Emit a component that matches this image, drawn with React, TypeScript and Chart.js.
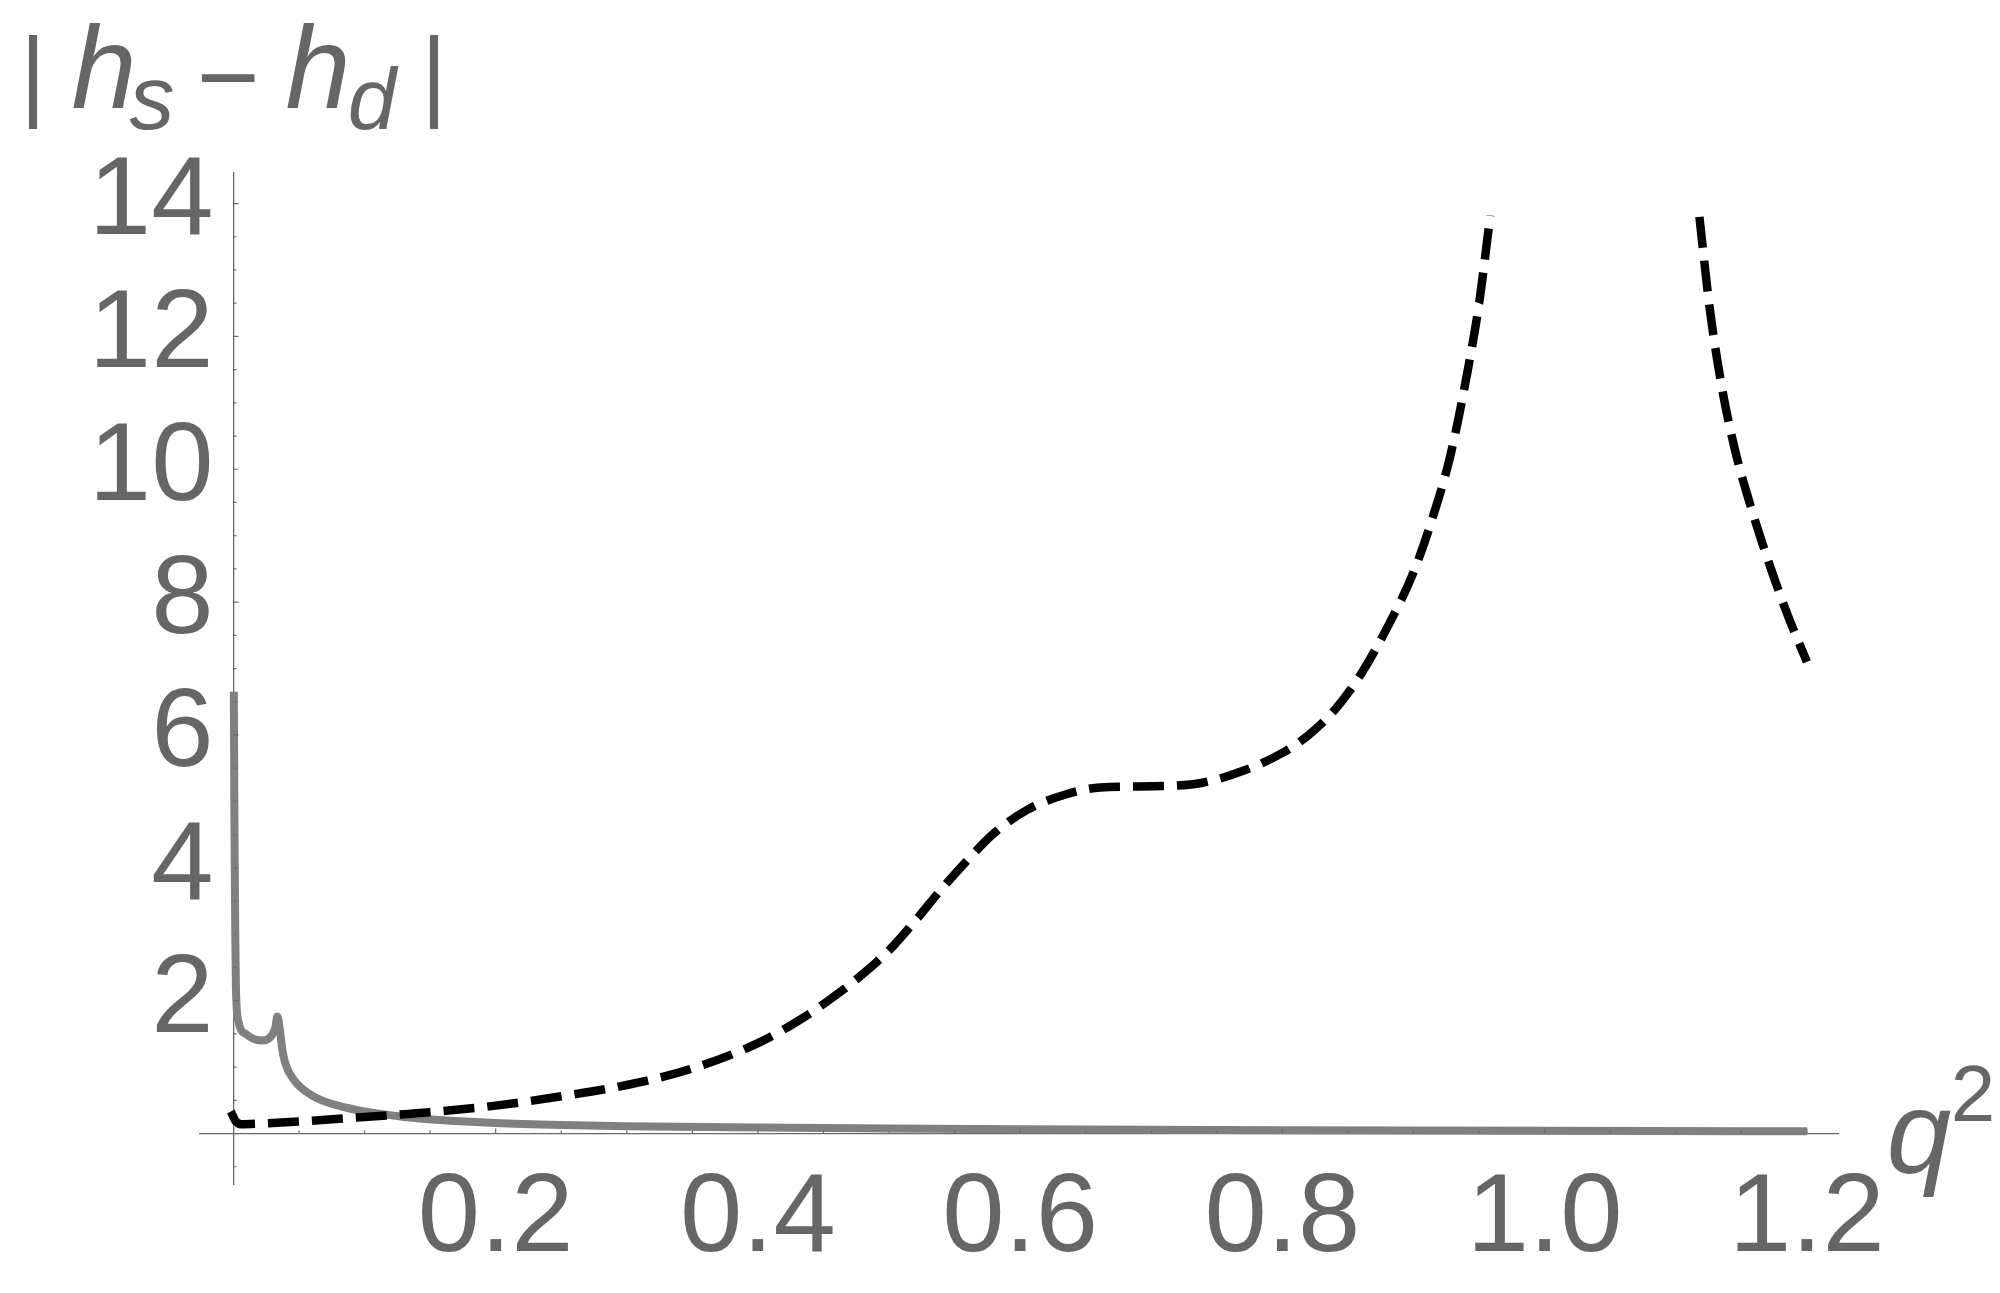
import React, { useEffect, useRef } from 'react';
import { Chart, registerables } from 'chart.js';

Chart.register(...registerables);

// ---- data ----
const DASHED_X = [-0.002, 0.002, 0.006, 0.02, 0.05, 0.1, 0.15, 0.2, 0.25, 0.3, 0.35, 0.4, 0.435, 0.455, 0.48, 0.503, 0.522, 0.54, 0.56, 0.58, 0.606, 0.634, 0.661, 0.709, 0.739, 0.77, 0.8, 0.82, 0.84, 0.86, 0.88, 0.9, 0.915, 0.928, 0.94, 0.95, 0.9585, 1.04, 1.118, 1.126, 1.135, 1.145, 1.157, 1.17, 1.185, 1.2];
const DASHED_Y = [0.33, 0.18, 0.14, 0.15, 0.18, 0.25, 0.32, 0.42, 0.56, 0.73, 0.98, 1.36, 1.75, 2.02, 2.4, 2.82, 3.25, 3.68, 4.12, 4.52, 4.88, 5.1, 5.21, 5.23, 5.28, 5.46, 5.73, 6.0, 6.38, 6.92, 7.62, 8.45, 9.3, 10.2, 11.35, 12.5, 13.82, null, 13.8, 12.4, 11.25, 10.3, 9.45, 8.65, 7.82, 7.1];

const SOLID_X = [0.0003, 0.0008, 0.0014, 0.0019, 0.0038, 0.01, 0.016, 0.0229, 0.027, 0.03, 0.032, 0.0335, 0.0355, 0.037, 0.0395, 0.046, 0.061, 0.086, 0.107, 0.13, 0.16, 0.2, 0.25, 0.3, 0.4, 0.5, 0.6, 0.8, 1.0, 1.2];
const SOLID_Y = [6.65, 4.5, 3.0, 2.2, 1.69, 1.49, 1.42, 1.4, 1.43, 1.5, 1.6, 1.76, 1.55, 1.3, 1.06, 0.81, 0.56, 0.39, 0.31, 0.25, 0.2, 0.16, 0.13, 0.11, 0.09, 0.075, 0.065, 0.05, 0.04, 0.035];

const X_TICKS = [0.2, 0.4, 0.6, 0.8, 1.0, 1.2];
const Y_TICKS = [2, 4, 6, 8, 10, 12, 14];
const X_MIN = -0.0255;
const X_MAX = 1.2237;
const Y_MIN = -0.76;
const Y_MAX = 14.46;

// ---- styles ----
const FONT = "'Liberation Sans', Arial, Helvetica, sans-serif";
const LABEL_COLOR = '#666666';
const AXIS_COLOR = '#6a6a6a';
const Y_LABEL_GAP = 20;

const shiftYLabels = {
  id: 'shiftYLabels',
  beforeDraw(chart: any) {
    const ys = chart.scales.y;
    const items = ys.getLabelItems(chart.chartArea);
    if (!items || items.__shifted) return;
    for (const it of items) {
      const t = it.options.translation;
      it.options.translation = [t[0] - Y_LABEL_GAP, t[1]];
    }
    items.__shifted = true;
  },
};

const decorPlugin = {
  id: 'decor',
  afterDraw(chart: any) {
    const ctx = chart.ctx as CanvasRenderingContext2D;
    const xs = chart.scales.x;
    const ys = chart.scales.y;
    const x0 = xs.getPixelForValue(0);
    const y0 = ys.getPixelForValue(0);
    ctx.save();
    // minor / major tick marks pointing inward
    ctx.strokeStyle = AXIS_COLOR;
    ctx.lineWidth = 1.2;
    ctx.beginPath();
    for (let i = 1; i * 0.05 <= X_MAX + 1e-9; i++) {
      const px = xs.getPixelForValue(i * 0.05);
      const len = i % 4 === 0 ? 5 : 3;
      ctx.moveTo(px, y0);
      ctx.lineTo(px, y0 - len);
    }
    for (let i = -1; i * 0.5 <= Y_MAX + 1e-9; i++) {
      if (i === 0) continue;
      const py = ys.getPixelForValue(i * 0.5);
      const len = i % 4 === 0 ? 5 : 3;
      ctx.moveTo(x0, py);
      ctx.lineTo(x0 + len, py);
    }
    ctx.stroke();

    // axis labels
    ctx.fillStyle = LABEL_COLOR;
    ctx.textAlign = 'center';
    ctx.textBaseline = 'alphabetic';
    const parts = [
      { text: '|', x: 33, y: 108, font: `100px ${FONT}` },
      { text: 'h', x: 104, y: 108, font: `italic 117px ${FONT}` },
      { text: 's', x: 152, y: 129, font: `italic 90px ${FONT}` },
      { text: '\u2212', x: 228, y: 114, font: `108px ${FONT}` },
      { text: 'h', x: 318, y: 108, font: `italic 117px ${FONT}` },
      { text: 'd', x: 372, y: 129, font: `italic 87px ${FONT}` },
      { text: '|', x: 434, y: 108, font: `100px ${FONT}` },
      { text: 'q', x: 1919, y: 1173, font: `italic 116px ${FONT}` },
      { text: '2', x: 1973, y: 1121, font: `80px ${FONT}` },
    ];
    for (const p of parts) {
      ctx.font = p.font;
      ctx.fillText(p.text, p.x, p.y);
    }
    ctx.restore();
  },
};

export default function App() {
  const canvasRef = useRef<HTMLCanvasElement | null>(null);

  useEffect(() => {
    const canvas = canvasRef.current;
    if (!canvas) return;
    const dashedData = DASHED_X.map((x, i) => ({ x, y: DASHED_Y[i] }));
    const solidData = SOLID_X.map((x, i) => ({ x, y: SOLID_Y[i] }));

    const chart = new Chart(canvas, {
      type: 'line',
      data: {
        datasets: [
          {
            label: 'dashed',
            data: dashedData as any,
            borderColor: '#000000',
            borderWidth: 8.5,
            borderDash: [31, 13],
            borderJoinStyle: 'round',
            pointRadius: 0,
            cubicInterpolationMode: 'monotone',
            spanGaps: false,
            fill: false,
          },
          {
            label: 'solid',
            data: solidData as any,
            borderColor: '#808080',
            borderWidth: 8,
            pointRadius: 0,
            cubicInterpolationMode: 'monotone',
            fill: false,
          },
        ],
      },
      options: {
        animation: false,
        responsive: false,
        maintainAspectRatio: false,
        devicePixelRatio: 1,
        events: [],
        layout: { padding: { left: 200, right: 162, top: 173, bottom: 109 } },
        plugins: {
          legend: { display: false },
          tooltip: { enabled: false },
          title: { display: false },
        },
        scales: {
          x: {
            type: 'linear',
            min: X_MIN,
            max: X_MAX,
            position: { y: 0 } as any,
            grid: { display: false, drawTicks: false },
            border: { display: true, color: AXIS_COLOR, width: 1.3 },
            afterBuildTicks: (s: any) => {
              s.ticks = X_TICKS.map((v) => ({ value: v }));
            },
            ticks: {
              autoSkip: false,
              maxRotation: 0,
              minRotation: 0,
              padding: 19,
              color: LABEL_COLOR,
              font: { family: FONT, size: 112 },
              callback: (v: any) => Number(v).toFixed(1),
            },
          },
          y: {
            type: 'linear',
            min: Y_MIN,
            max: Y_MAX,
            position: { x: 0 } as any,
            grid: { display: false, drawTicks: false },
            border: { display: true, color: AXIS_COLOR, width: 1.3 },
            afterBuildTicks: (s: any) => {
              s.ticks = Y_TICKS.map((v) => ({ value: v }));
            },
            ticks: {
              autoSkip: false,
              padding: 0,
              color: LABEL_COLOR,
              font: { family: FONT, size: 112 },
              callback: (v: any) => String(v),
            },
          },
        },
      },
      plugins: [shiftYLabels, decorPlugin],
    });
    return () => chart.destroy();
  }, []);

  return (
    <div style={{ position: 'fixed', left: 0, top: 0, width: 2000, height: 1293, background: '#ffffff' }}>
      <canvas ref={canvasRef} width={2000} height={1293} style={{ width: 2000, height: 1293, display: 'block' }} />
    </div>
  );
}
